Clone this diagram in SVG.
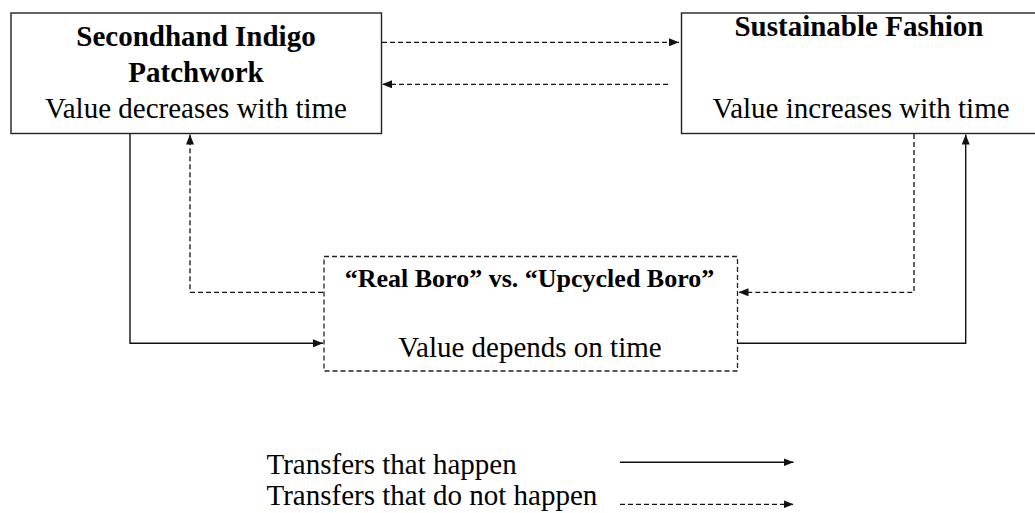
<svg xmlns="http://www.w3.org/2000/svg" width="1035" height="513" viewBox="0 0 1035 513">
<style>
.box{fill:#fff;stroke:#222;stroke-width:1.4}
.dbox{fill:#fff;stroke:#222;stroke-width:1.3;stroke-dasharray:5 3}
.t{font-family:"Liberation Serif","Times New Roman",serif;font-size:29px;fill:#000}
.b{font-weight:bold}
.c{text-anchor:middle}
.solid{fill:none;stroke:#111;stroke-width:1.4}
.dash{fill:none;stroke:#111;stroke-width:1.3;stroke-dasharray:5 3}
</style>
<defs>
<marker id="ah" viewBox="0 0 10 8" refX="10" refY="4" markerWidth="10" markerHeight="8" markerUnits="userSpaceOnUse" orient="auto">
<path d="M0,0 L10,4 L0,8 z" fill="#111"/>
</marker>
</defs>
<g id="node-secondhand">
<rect class="box" x="11" y="13" width="370.5" height="120.5"/>
<text class="t b c" x="196" y="46">Secondhand Indigo</text>
<text class="t b c" x="196" y="82">Patchwork</text>
<text class="t c" x="196" y="117.5">Value decreases with time</text>
</g>
<g id="node-sustainable">
<rect class="box" x="681.5" y="13" width="360" height="120.5"/>
<text class="t b c" x="859" y="36">Sustainable Fashion</text>
<text class="t c" x="861" y="118">Value increases with time</text>
</g>
<g id="node-boro">
<rect class="dbox" x="324" y="256.5" width="413.5" height="114.5"/>
<text class="t b c" x="529.5" y="287" style="font-size:26px">“Real Boro” vs. “Upcycled Boro”</text>
<text class="t c" x="530" y="357">Value depends on time</text>
</g>
<g id="connectors">
<line class="dash" x1="382" y1="42.3" x2="679" y2="42.3" marker-end="url(#ah)"/>
<line class="dash" x1="668" y1="84.3" x2="382" y2="84.3" marker-end="url(#ah)"/>
<polyline class="solid" points="130,134 130,343.3 323,343.3" marker-end="url(#ah)"/>
<polyline class="dash" points="323,292.3 190,292.3 190,134.5" marker-end="url(#ah)"/>
<polyline class="dash" points="914,134 914,292.3 738.5,292.3" marker-end="url(#ah)"/>
<polyline class="solid" points="738,343.3 965.7,343.3 965.7,134.5" marker-end="url(#ah)"/>
</g>
<g id="legend">
<text class="t" x="266.5" y="473.5">Transfers that happen</text>
<text class="t" x="266.5" y="504.5">Transfers that do not happen</text>
<line class="solid" x1="620" y1="462.3" x2="793.5" y2="462.3" marker-end="url(#ah)"/>
<line class="dash" x1="620" y1="504.3" x2="793.5" y2="504.3" marker-end="url(#ah)"/>
</g>
</svg>
